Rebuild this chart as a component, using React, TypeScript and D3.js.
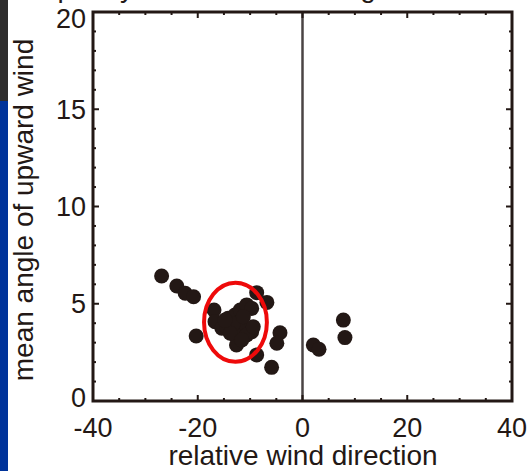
import React from "react";
import * as d3 from "d3";

// Observations: relative wind direction (deg) vs mean angle of upward wind (deg)
const windDirection = [
  -26.9, -24.0, -22.4, -20.8, -20.3, -16.9, -16.7, -15.4, -14.2, -12.9,
  -11.9, -10.65, -9.7, -11.9, -11.0, -12.9, -12.6, -9.7, -8.75, -6.8,
  -4.3, -4.9, -8.75, -5.9, 2.07, 3.15, 7.8, 8.1,
  -14.5, -13.2, -11.3, -13.8, -10.65, -11.6, -9.4, -14.8,
];
const upwardAngle = [
  6.43, 5.91, 5.54, 5.36, 3.34, 4.68, 4.08, 3.74, 4.25, 4.42,
  4.68, 4.94, 4.76, 4.08, 3.74, 3.39, 2.88, 3.56, 5.57, 5.07,
  3.51, 2.97, 2.37, 1.73, 2.88, 2.66, 4.16, 3.26,
  3.82, 3.99, 4.33, 3.48, 3.39, 3.14, 3.82, 4.16,
];

const xMajorTicks = [-40, -20, 0, 20, 40];
const yMajorTicks = [0, 5, 10, 15, 20];

// Highlighted cluster (centre and half-widths in data units)
const highlightCenter = [-12.8, 4.05];
const highlightRadius = [6.0, 2.03];

const W = 530;
const H = 471;
const FONT = "'Liberation Sans', Arial, Helvetica, sans-serif";
const INK = "#231815";

export default function App() {
  const x = d3.scaleLinear().domain([-40, 40]).range([93, 512]);
  const y = d3.scaleLinear().domain([0, 20]).range([401, 12]);
  const [x0, x1] = x.range();
  const [y0, y1] = y.range();

  const xMinor = d3.range(-40, 41, 5);
  const yMinor = d3.range(0, 21, 1);
  const tickLen = (major: boolean) => (major ? 6 : 3);

  const points = windDirection.map((d, i) => [d, upwardAngle[i]]);

  return (
    <svg
      width={W}
      height={H}
      style={{ position: "absolute", left: 0, top: 0, background: "#fff" }}
    >
      {/* slide edge strip */}
      <rect x={0} y={0} width={8} height={101} fill="#2e2d2d" />
      <rect x={0} y={101} width={8} height={H - 101} fill="#00339a" />

      {/* title, mostly above the visible area */}
      <text
        x={17}
        y={-3}
        fontFamily={FONT}
        fontSize={28}
        wordSpacing={8}
        fill={INK}
      >
        Slope by relative wind angle
      </text>

      {/* zero direction line */}
      <line x1={x(0)} x2={x(0)} y1={y1} y2={y0} stroke="#4a4444" strokeWidth={2.5} />

      {/* ticks on all four sides, pointing inward */}
      {xMinor.map((v) => {
        const major = v % 20 === 0;
        const L = tickLen(major);
        return (
          <g key={"xt" + v} stroke={INK} strokeWidth={2}>
            <line x1={x(v)} x2={x(v)} y1={y0} y2={y0 - L} />
            <line x1={x(v)} x2={x(v)} y1={y1} y2={y1 + L} />
          </g>
        );
      })}
      {yMinor.map((v) => {
        const major = v % 5 === 0;
        const L = tickLen(major);
        return (
          <g key={"yt" + v} stroke={INK} strokeWidth={2}>
            <line x1={x0} x2={x0 + L} y1={y(v)} y2={y(v)} />
            <line x1={x1} x2={x1 - L} y1={y(v)} y2={y(v)} />
          </g>
        );
      })}

      {/* data points */}
      {points.map(([a, b], i) => (
        <circle key={i} cx={x(a)} cy={y(b)} r={7.5} fill={INK} />
      ))}

      {/* highlighted cluster */}
      <ellipse
        cx={x(highlightCenter[0])}
        cy={y(highlightCenter[1])}
        rx={x(highlightCenter[0] + highlightRadius[0]) - x(highlightCenter[0])}
        ry={y(highlightCenter[1] - highlightRadius[1]) - y(highlightCenter[1])}
        fill="none"
        stroke="#ee0a0a"
        strokeWidth={4}
      />

      {/* frame */}
      <rect
        x={x0}
        y={y1}
        width={x1 - x0}
        height={y0 - y1}
        fill="none"
        stroke={INK}
        strokeWidth={3}
      />

      {/* tick labels */}
      {xMajorTicks.map((v) => (
        <text
          key={"xl" + v}
          x={x(v)}
          y={437}
          textAnchor="middle"
          fontFamily={FONT}
          fontSize={27}
          fill={INK}
        >
          {v}
        </text>
      ))}
      {yMajorTicks.map((v) => (
        <text
          key={"yl" + v}
          x={86}
          y={Math.min(Math.max(y(v), 18), 397)}
          dy="0.36em"
          textAnchor="end"
          fontFamily={FONT}
          fontSize={27}
          fill={INK}
        >
          {v}
        </text>
      ))}

      {/* axis titles */}
      <text
        x={303}
        y={465}
        textAnchor="middle"
        fontFamily={FONT}
        fontSize={28}
        fill={INK}
      >
        relative wind direction
      </text>
      <text
        transform={`translate(33, ${210}) rotate(-90)`}
        textAnchor="middle"
        fontFamily={FONT}
        fontSize={28}
        fill={INK}
      >
        mean angle of upward wind
      </text>
    </svg>
  );
}
